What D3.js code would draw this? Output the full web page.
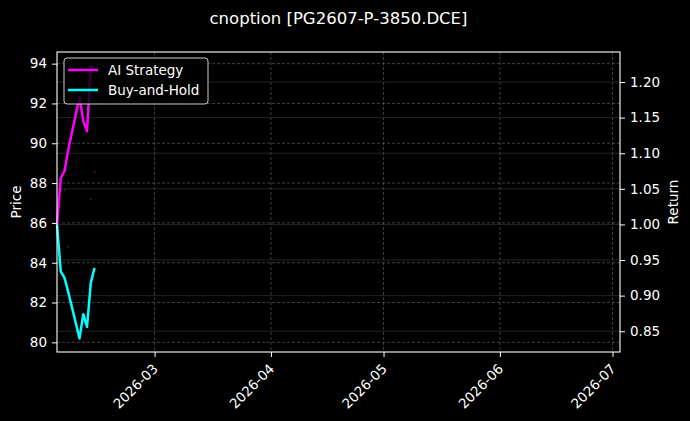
<!DOCTYPE html>
<html>
<head>
<meta charset="utf-8">
<script src="https://cdn.jsdelivr.net/npm/d3@7"></script>
<style>
  html, body { margin: 0; padding: 0; background: #000; }
  svg { display: block; font-family: "DejaVu Sans", sans-serif; }
</style>
</head>
<body>
<div class="container"></div>
<script>
const dates = ["2026-02-03", "2026-02-04", "2026-02-05", "2026-02-06", "2026-02-09",
               "2026-02-10", "2026-02-11", "2026-02-12", "2026-02-13"];
const aiStrategy = [1.000, 1.065, 1.075, 1.105, 1.179, 1.145, 1.131, 1.223, 1.218];
const buyHold = [1.000, 0.934, 0.925, 0.905, 0.840, 0.874, 0.856, 0.918, 0.939];
const prices = [93.9, 88.3, 87.65, 84.8, 80.2, 82.55, 80.8, 87.2, 88.55];

const priceTicks = [80, 82, 84, 86, 88, 90, 92, 94];
const returnTicks = [0.85, 0.90, 0.95, 1.00, 1.05, 1.10, 1.15, 1.20];
const monthTicks = ["2026-03-01", "2026-04-01", "2026-05-01", "2026-06-01", "2026-07-01"];
const xRange = ["2026-02-03", "2026-07-03"];

const title = "cnoption [PG2607-P-3850.DCE]";
const seriesNames = ["AI Strategy", "Buy-and-Hold"];
const seriesColors = ["#ff00ff", "#00ffff"];

const w = 690;
const h = 421;
const plotLeft = 57, plotRight = 620, plotTop = 52, plotBottom = 352;

const parse = d3.timeParse("%Y-%m-%d");

// matplotlib style 5% padding around the data
const padded = (vals) => {
  const lo = d3.min(vals), hi = d3.max(vals);
  const p = (hi - lo) * 0.05;
  return [lo - p, hi + p];
};

const xScale = d3.scaleTime()
  .domain(xRange.map(parse))
  .range([plotLeft, plotRight]);

const yPrice = d3.scaleLinear()
  .domain(padded(prices))
  .range([plotBottom, plotTop]);

const yReturn = d3.scaleLinear()
  .domain(padded(aiStrategy.concat(buyHold)))
  .range([plotBottom, plotTop]);

const svg = d3.select(".container")
  .append("svg")
  .attr("width", w)
  .attr("height", h);

svg.append("rect")
  .attr("width", w)
  .attr("height", h)
  .attr("fill", "#000");

// grids
const grid = svg.append("g");
grid.selectAll(".gx")
  .data(monthTicks.map(parse))
  .enter().append("line")
  .attr("x1", (d) => xScale(d)).attr("x2", (d) => xScale(d))
  .attr("y1", plotTop).attr("y2", plotBottom)
  .attr("stroke", "#5a5a5a")
  .attr("stroke-width", 0.7)
  .attr("stroke-dasharray", "3,2");
grid.selectAll(".gp")
  .data(priceTicks)
  .enter().append("line")
  .attr("x1", plotLeft).attr("x2", plotRight)
  .attr("y1", (d) => yPrice(d)).attr("y2", (d) => yPrice(d))
  .attr("stroke", "#5a5a5a")
  .attr("stroke-width", 0.7)
  .attr("stroke-dasharray", "3,2");
grid.selectAll(".gr")
  .data(returnTicks)
  .enter().append("line")
  .attr("x1", plotLeft).attr("x2", plotRight)
  .attr("y1", (d) => yReturn(d)).attr("y2", (d) => yReturn(d))
  .attr("stroke", "#333")
  .attr("stroke-width", 0.7);

// faint price points
svg.append("g")
  .selectAll("circle")
  .data(prices)
  .enter().append("circle")
  .attr("cx", (d, i) => xScale(parse(dates[i])))
  .attr("cy", (d) => yPrice(d))
  .attr("r", 0.9)
  .attr("fill", "#6a1628");

const line = d3.line()
  .x((d, i) => xScale(parse(dates[i])))
  .y((d) => yReturn(d));

[aiStrategy, buyHold].forEach((s, k) => {
  svg.append("path")
    .datum(s)
    .attr("d", line)
    .attr("fill", "none")
    .attr("stroke", seriesColors[k])
    .attr("stroke-width", 2.5)
    .attr("stroke-linejoin", "round");
});

// axes
const styleAxis = (g) => {
  g.select(".domain").remove();
  g.selectAll(".tick line").attr("stroke", "#fff").attr("stroke-width", 1);
  g.selectAll(".tick text")
    .attr("fill", "#fff")
    .style("font-size", "13.5px")
    .style("font-family", "DejaVu Sans, sans-serif");
};

svg.append("g")
  .attr("transform", "translate(" + plotLeft + ",0)")
  .call(d3.axisLeft(yPrice).tickValues(priceTicks).tickSize(5).tickPadding(5))
  .call(styleAxis);

svg.append("g")
  .attr("transform", "translate(" + plotRight + ",0)")
  .call(d3.axisRight(yReturn).tickValues(returnTicks).tickSize(5).tickPadding(5)
    .tickFormat(d3.format(".2f")))
  .call(styleAxis);

const xAxis = svg.append("g")
  .attr("transform", "translate(0," + plotBottom + ")")
  .call(d3.axisBottom(xScale).tickValues(monthTicks.map(parse)).tickSize(5)
    .tickFormat(d3.timeFormat("%Y-%m")))
  .call(styleAxis);
xAxis.selectAll(".tick text")
  .attr("text-anchor", "end")
  .attr("dy", "0.7em")
  .attr("y", 0)
  .attr("transform", "translate(-3,11) rotate(-45)");

// frame
svg.append("rect")
  .attr("x", plotLeft).attr("y", plotTop)
  .attr("width", plotRight - plotLeft).attr("height", plotBottom - plotTop)
  .attr("fill", "none")
  .attr("stroke", "#fff")
  .attr("stroke-width", 1.1);

svg.append("text")
  .attr("x", (plotLeft + plotRight) / 2)
  .attr("y", 24)
  .attr("text-anchor", "middle")
  .attr("fill", "#fff")
  .style("font-size", "16.5px")
  .text(title);

svg.append("text")
  .attr("transform", "translate(21," + (plotTop + plotBottom) / 2 + ") rotate(-90)")
  .attr("text-anchor", "middle")
  .attr("fill", "#fff")
  .style("font-size", "13.5px")
  .text("Price");

svg.append("text")
  .attr("transform", "translate(678," + (plotTop + plotBottom) / 2 + ") rotate(-90)")
  .attr("text-anchor", "middle")
  .attr("fill", "#fff")
  .style("font-size", "13.5px")
  .text("Return");

// legend
const legend = svg.append("g");
legend.append("rect")
  .attr("x", 64).attr("y", 58)
  .attr("width", 144).attr("height", 46)
  .attr("rx", 3)
  .attr("fill", "#000")
  .attr("fill-opacity", 0.8)
  .attr("stroke", "#ccc")
  .attr("stroke-width", 1);
seriesNames.forEach((name, k) => {
  legend.append("line")
    .attr("x1", 68).attr("x2", 98)
    .attr("y1", 70 + k * 20).attr("y2", 70 + k * 20)
    .attr("stroke", seriesColors[k])
    .attr("stroke-width", 2.5);
  legend.append("text")
    .attr("x", 108)
    .attr("y", 75 + k * 20)
    .attr("fill", "#fff")
    .style("font-size", "13.5px")
    .text(name);
});
</script>
</body>
</html>
